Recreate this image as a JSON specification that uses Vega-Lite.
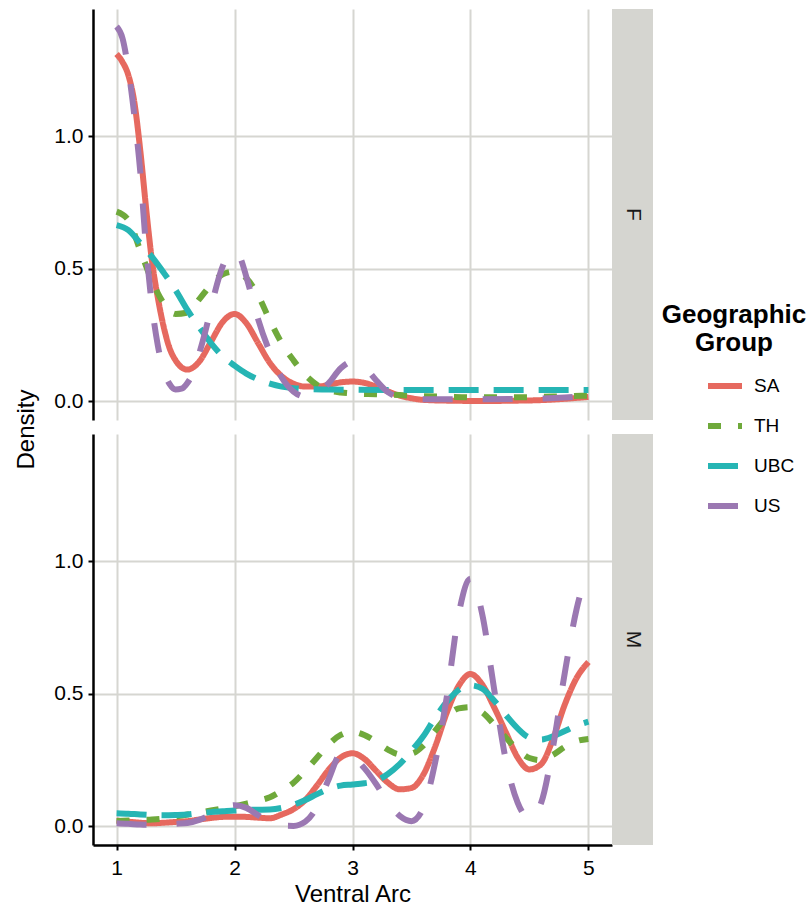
{
"$schema":"https://vega.github.io/schema/vega-lite/v6.json",
"background":"white",
"padding":{"left":14,"top":9,"right":0,"bottom":0},
"bounds":"flush",
"config":{
 "view":{"stroke":null},
 "font":"Liberation Sans",
 "axis":{"labelFont":"Liberation Sans","labelFontSize":21,"labelColor":"black","titleFont":"Liberation Sans","titleFontSize":24,"titleFontWeight":"normal","titleColor":"black","gridColor":"#d6d6d1","gridWidth":2,"domainColor":"black","domainWidth":2.5,"tickColor":"black","tickWidth":2,"tickSize":5,"labelPadding":5},
 "legend":{"orient":"none","legendX":569,"legendY":293,"titleFont":"Liberation Sans","titleFontSize":26,"titleFontWeight":"bold","titleColor":"black","titleAlign":"center","titleAnchor":"middle","titleLineHeight":28,"labelFont":"Liberation Sans","labelFontSize":19,"labelColor":"black","symbolType":"stroke","symbolSize":1156,"symbolStrokeWidth":6,"symbolOffset":31,"labelOffset":9,"rowPadding":8,"titlePadding":10}
},
"datasets":{"dens":[
{"sex":"F","group":"SA","arc":1,"density":1.31},{"sex":"F","group":"SA","arc":1.05,"density":1.28},{"sex":"F","group":"SA","arc":1.1,"density":1.23},{"sex":"F","group":"SA","arc":1.15,"density":1.13},{"sex":"F","group":"SA","arc":1.2,"density":0.95},{"sex":"F","group":"SA","arc":1.25,"density":0.73},{"sex":"F","group":"SA","arc":1.3,"density":0.53},{"sex":"F","group":"SA","arc":1.35,"density":0.39},{"sex":"F","group":"SA","arc":1.4,"density":0.28},{"sex":"F","group":"SA","arc":1.45,"density":0.2},{"sex":"F","group":"SA","arc":1.5,"density":0.155},{"sex":"F","group":"SA","arc":1.6,"density":0.12},{"sex":"F","group":"SA","arc":1.7,"density":0.15},{"sex":"F","group":"SA","arc":1.8,"density":0.225},{"sex":"F","group":"SA","arc":1.9,"density":0.3},{"sex":"F","group":"SA","arc":2,"density":0.33},{"sex":"F","group":"SA","arc":2.1,"density":0.295},{"sex":"F","group":"SA","arc":2.2,"density":0.22},{"sex":"F","group":"SA","arc":2.3,"density":0.145},{"sex":"F","group":"SA","arc":2.4,"density":0.095},{"sex":"F","group":"SA","arc":2.5,"density":0.067},{"sex":"F","group":"SA","arc":2.6,"density":0.056},{"sex":"F","group":"SA","arc":2.7,"density":0.056},{"sex":"F","group":"SA","arc":2.8,"density":0.063},{"sex":"F","group":"SA","arc":2.9,"density":0.072},{"sex":"F","group":"SA","arc":3,"density":0.075},{"sex":"F","group":"SA","arc":3.1,"density":0.07},{"sex":"F","group":"SA","arc":3.2,"density":0.056},{"sex":"F","group":"SA","arc":3.3,"density":0.038},{"sex":"F","group":"SA","arc":3.4,"density":0.022},{"sex":"F","group":"SA","arc":3.5,"density":0.012},{"sex":"F","group":"SA","arc":3.6,"density":0.006},{"sex":"F","group":"SA","arc":3.8,"density":0.003},{"sex":"F","group":"SA","arc":4,"density":0.002},{"sex":"F","group":"SA","arc":4.2,"density":0.002},{"sex":"F","group":"SA","arc":4.4,"density":0.003},{"sex":"F","group":"SA","arc":4.6,"density":0.005},{"sex":"F","group":"SA","arc":4.8,"density":0.01},{"sex":"F","group":"SA","arc":5,"density":0.017},
{"sex":"F","group":"TH","arc":1,"density":0.716},{"sex":"F","group":"TH","arc":1.1,"density":0.684},{"sex":"F","group":"TH","arc":1.2,"density":0.57},{"sex":"F","group":"TH","arc":1.3,"density":0.455},{"sex":"F","group":"TH","arc":1.4,"density":0.37},{"sex":"F","group":"TH","arc":1.5,"density":0.33},{"sex":"F","group":"TH","arc":1.6,"density":0.335},{"sex":"F","group":"TH","arc":1.7,"density":0.385},{"sex":"F","group":"TH","arc":1.8,"density":0.44},{"sex":"F","group":"TH","arc":1.9,"density":0.48},{"sex":"F","group":"TH","arc":2,"density":0.49},{"sex":"F","group":"TH","arc":2.1,"density":0.465},{"sex":"F","group":"TH","arc":2.2,"density":0.4},{"sex":"F","group":"TH","arc":2.3,"density":0.305},{"sex":"F","group":"TH","arc":2.4,"density":0.22},{"sex":"F","group":"TH","arc":2.5,"density":0.155},{"sex":"F","group":"TH","arc":2.6,"density":0.1},{"sex":"F","group":"TH","arc":2.7,"density":0.062},{"sex":"F","group":"TH","arc":2.8,"density":0.042},{"sex":"F","group":"TH","arc":2.9,"density":0.034},{"sex":"F","group":"TH","arc":3,"density":0.03},{"sex":"F","group":"TH","arc":3.2,"density":0.027},{"sex":"F","group":"TH","arc":3.4,"density":0.024},{"sex":"F","group":"TH","arc":3.6,"density":0.02},{"sex":"F","group":"TH","arc":3.8,"density":0.018},{"sex":"F","group":"TH","arc":4,"density":0.016},{"sex":"F","group":"TH","arc":4.2,"density":0.016},{"sex":"F","group":"TH","arc":4.4,"density":0.016},{"sex":"F","group":"TH","arc":4.6,"density":0.017},{"sex":"F","group":"TH","arc":4.8,"density":0.02},{"sex":"F","group":"TH","arc":5,"density":0.022},
{"sex":"F","group":"UBC","arc":1,"density":0.665},{"sex":"F","group":"UBC","arc":1.1,"density":0.646},{"sex":"F","group":"UBC","arc":1.2,"density":0.597},{"sex":"F","group":"UBC","arc":1.3,"density":0.545},{"sex":"F","group":"UBC","arc":1.4,"density":0.485},{"sex":"F","group":"UBC","arc":1.5,"density":0.42},{"sex":"F","group":"UBC","arc":1.6,"density":0.345},{"sex":"F","group":"UBC","arc":1.7,"density":0.28},{"sex":"F","group":"UBC","arc":1.8,"density":0.22},{"sex":"F","group":"UBC","arc":1.9,"density":0.17},{"sex":"F","group":"UBC","arc":2,"density":0.135},{"sex":"F","group":"UBC","arc":2.1,"density":0.105},{"sex":"F","group":"UBC","arc":2.2,"density":0.083},{"sex":"F","group":"UBC","arc":2.3,"density":0.067},{"sex":"F","group":"UBC","arc":2.4,"density":0.056},{"sex":"F","group":"UBC","arc":2.5,"density":0.05},{"sex":"F","group":"UBC","arc":2.6,"density":0.047},{"sex":"F","group":"UBC","arc":2.8,"density":0.045},{"sex":"F","group":"UBC","arc":3,"density":0.044},{"sex":"F","group":"UBC","arc":3.5,"density":0.043},{"sex":"F","group":"UBC","arc":4,"density":0.043},{"sex":"F","group":"UBC","arc":4.5,"density":0.043},{"sex":"F","group":"UBC","arc":5,"density":0.043},
{"sex":"F","group":"US","arc":1,"density":1.414},{"sex":"F","group":"US","arc":1.05,"density":1.37},{"sex":"F","group":"US","arc":1.1,"density":1.25},{"sex":"F","group":"US","arc":1.15,"density":1.08},{"sex":"F","group":"US","arc":1.2,"density":0.87},{"sex":"F","group":"US","arc":1.25,"density":0.58},{"sex":"F","group":"US","arc":1.3,"density":0.36},{"sex":"F","group":"US","arc":1.35,"density":0.21},{"sex":"F","group":"US","arc":1.4,"density":0.115},{"sex":"F","group":"US","arc":1.45,"density":0.065},{"sex":"F","group":"US","arc":1.5,"density":0.045},{"sex":"F","group":"US","arc":1.55,"density":0.048},{"sex":"F","group":"US","arc":1.6,"density":0.07},{"sex":"F","group":"US","arc":1.65,"density":0.11},{"sex":"F","group":"US","arc":1.7,"density":0.18},{"sex":"F","group":"US","arc":1.75,"density":0.26},{"sex":"F","group":"US","arc":1.8,"density":0.35},{"sex":"F","group":"US","arc":1.85,"density":0.44},{"sex":"F","group":"US","arc":1.9,"density":0.51},{"sex":"F","group":"US","arc":1.95,"density":0.553},{"sex":"F","group":"US","arc":2,"density":0.566},{"sex":"F","group":"US","arc":2.05,"density":0.54},{"sex":"F","group":"US","arc":2.1,"density":0.47},{"sex":"F","group":"US","arc":2.15,"density":0.39},{"sex":"F","group":"US","arc":2.2,"density":0.31},{"sex":"F","group":"US","arc":2.3,"density":0.185},{"sex":"F","group":"US","arc":2.4,"density":0.09},{"sex":"F","group":"US","arc":2.5,"density":0.037},{"sex":"F","group":"US","arc":2.6,"density":0.018},{"sex":"F","group":"US","arc":2.7,"density":0.03},{"sex":"F","group":"US","arc":2.8,"density":0.07},{"sex":"F","group":"US","arc":2.9,"density":0.125},{"sex":"F","group":"US","arc":3,"density":0.15},{"sex":"F","group":"US","arc":3.1,"density":0.13},{"sex":"F","group":"US","arc":3.2,"density":0.08},{"sex":"F","group":"US","arc":3.3,"density":0.035},{"sex":"F","group":"US","arc":3.4,"density":0.015},{"sex":"F","group":"US","arc":3.5,"density":0.01},{"sex":"F","group":"US","arc":3.7,"density":0.008},{"sex":"F","group":"US","arc":4,"density":0.008},{"sex":"F","group":"US","arc":4.5,"density":0.01},{"sex":"F","group":"US","arc":4.8,"density":0.015},{"sex":"F","group":"US","arc":5,"density":0.022},
{"sex":"M","group":"SA","arc":1,"density":0.022},{"sex":"M","group":"SA","arc":1.1,"density":0.018},{"sex":"M","group":"SA","arc":1.2,"density":0.014},{"sex":"M","group":"SA","arc":1.3,"density":0.012},{"sex":"M","group":"SA","arc":1.4,"density":0.014},{"sex":"M","group":"SA","arc":1.5,"density":0.017},{"sex":"M","group":"SA","arc":1.6,"density":0.02},{"sex":"M","group":"SA","arc":1.7,"density":0.026},{"sex":"M","group":"SA","arc":1.8,"density":0.032},{"sex":"M","group":"SA","arc":1.9,"density":0.036},{"sex":"M","group":"SA","arc":2,"density":0.037},{"sex":"M","group":"SA","arc":2.1,"density":0.036},{"sex":"M","group":"SA","arc":2.2,"density":0.033},{"sex":"M","group":"SA","arc":2.3,"density":0.031},{"sex":"M","group":"SA","arc":2.4,"density":0.045},{"sex":"M","group":"SA","arc":2.5,"density":0.065},{"sex":"M","group":"SA","arc":2.6,"density":0.1},{"sex":"M","group":"SA","arc":2.7,"density":0.155},{"sex":"M","group":"SA","arc":2.8,"density":0.215},{"sex":"M","group":"SA","arc":2.9,"density":0.26},{"sex":"M","group":"SA","arc":3,"density":0.276},{"sex":"M","group":"SA","arc":3.1,"density":0.255},{"sex":"M","group":"SA","arc":3.2,"density":0.21},{"sex":"M","group":"SA","arc":3.3,"density":0.165},{"sex":"M","group":"SA","arc":3.4,"density":0.14},{"sex":"M","group":"SA","arc":3.5,"density":0.145},{"sex":"M","group":"SA","arc":3.6,"density":0.195},{"sex":"M","group":"SA","arc":3.7,"density":0.3},{"sex":"M","group":"SA","arc":3.8,"density":0.43},{"sex":"M","group":"SA","arc":3.9,"density":0.53},{"sex":"M","group":"SA","arc":4,"density":0.575},{"sex":"M","group":"SA","arc":4.1,"density":0.535},{"sex":"M","group":"SA","arc":4.2,"density":0.45},{"sex":"M","group":"SA","arc":4.3,"density":0.355},{"sex":"M","group":"SA","arc":4.4,"density":0.26},{"sex":"M","group":"SA","arc":4.5,"density":0.215},{"sex":"M","group":"SA","arc":4.6,"density":0.235},{"sex":"M","group":"SA","arc":4.7,"density":0.33},{"sex":"M","group":"SA","arc":4.8,"density":0.46},{"sex":"M","group":"SA","arc":4.9,"density":0.56},{"sex":"M","group":"SA","arc":5,"density":0.62},
{"sex":"M","group":"TH","arc":1,"density":0.02},{"sex":"M","group":"TH","arc":1.1,"density":0.022},{"sex":"M","group":"TH","arc":1.2,"density":0.024},{"sex":"M","group":"TH","arc":1.3,"density":0.026},{"sex":"M","group":"TH","arc":1.4,"density":0.03},{"sex":"M","group":"TH","arc":1.5,"density":0.037},{"sex":"M","group":"TH","arc":1.6,"density":0.045},{"sex":"M","group":"TH","arc":1.7,"density":0.052},{"sex":"M","group":"TH","arc":1.8,"density":0.06},{"sex":"M","group":"TH","arc":1.9,"density":0.068},{"sex":"M","group":"TH","arc":2,"density":0.076},{"sex":"M","group":"TH","arc":2.1,"density":0.086},{"sex":"M","group":"TH","arc":2.2,"density":0.097},{"sex":"M","group":"TH","arc":2.3,"density":0.11},{"sex":"M","group":"TH","arc":2.4,"density":0.135},{"sex":"M","group":"TH","arc":2.5,"density":0.165},{"sex":"M","group":"TH","arc":2.6,"density":0.21},{"sex":"M","group":"TH","arc":2.7,"density":0.26},{"sex":"M","group":"TH","arc":2.8,"density":0.31},{"sex":"M","group":"TH","arc":2.9,"density":0.345},{"sex":"M","group":"TH","arc":3,"density":0.357},{"sex":"M","group":"TH","arc":3.1,"density":0.345},{"sex":"M","group":"TH","arc":3.2,"density":0.32},{"sex":"M","group":"TH","arc":3.3,"density":0.29},{"sex":"M","group":"TH","arc":3.4,"density":0.272},{"sex":"M","group":"TH","arc":3.5,"density":0.275},{"sex":"M","group":"TH","arc":3.6,"density":0.305},{"sex":"M","group":"TH","arc":3.7,"density":0.36},{"sex":"M","group":"TH","arc":3.8,"density":0.415},{"sex":"M","group":"TH","arc":3.9,"density":0.445},{"sex":"M","group":"TH","arc":4,"density":0.45},{"sex":"M","group":"TH","arc":4.1,"density":0.43},{"sex":"M","group":"TH","arc":4.2,"density":0.385},{"sex":"M","group":"TH","arc":4.3,"density":0.335},{"sex":"M","group":"TH","arc":4.4,"density":0.29},{"sex":"M","group":"TH","arc":4.5,"density":0.258},{"sex":"M","group":"TH","arc":4.6,"density":0.25},{"sex":"M","group":"TH","arc":4.7,"density":0.27},{"sex":"M","group":"TH","arc":4.8,"density":0.3},{"sex":"M","group":"TH","arc":4.9,"density":0.322},{"sex":"M","group":"TH","arc":5,"density":0.33},
{"sex":"M","group":"UBC","arc":1,"density":0.05},{"sex":"M","group":"UBC","arc":1.1,"density":0.048},{"sex":"M","group":"UBC","arc":1.2,"density":0.045},{"sex":"M","group":"UBC","arc":1.3,"density":0.043},{"sex":"M","group":"UBC","arc":1.4,"density":0.042},{"sex":"M","group":"UBC","arc":1.5,"density":0.043},{"sex":"M","group":"UBC","arc":1.6,"density":0.045},{"sex":"M","group":"UBC","arc":1.7,"density":0.05},{"sex":"M","group":"UBC","arc":1.8,"density":0.054},{"sex":"M","group":"UBC","arc":1.9,"density":0.057},{"sex":"M","group":"UBC","arc":2,"density":0.06},{"sex":"M","group":"UBC","arc":2.1,"density":0.062},{"sex":"M","group":"UBC","arc":2.2,"density":0.063},{"sex":"M","group":"UBC","arc":2.3,"density":0.064},{"sex":"M","group":"UBC","arc":2.4,"density":0.07},{"sex":"M","group":"UBC","arc":2.5,"density":0.082},{"sex":"M","group":"UBC","arc":2.6,"density":0.1},{"sex":"M","group":"UBC","arc":2.7,"density":0.122},{"sex":"M","group":"UBC","arc":2.8,"density":0.142},{"sex":"M","group":"UBC","arc":2.9,"density":0.154},{"sex":"M","group":"UBC","arc":3,"density":0.158},{"sex":"M","group":"UBC","arc":3.1,"density":0.163},{"sex":"M","group":"UBC","arc":3.2,"density":0.172},{"sex":"M","group":"UBC","arc":3.3,"density":0.198},{"sex":"M","group":"UBC","arc":3.4,"density":0.235},{"sex":"M","group":"UBC","arc":3.5,"density":0.285},{"sex":"M","group":"UBC","arc":3.6,"density":0.34},{"sex":"M","group":"UBC","arc":3.7,"density":0.41},{"sex":"M","group":"UBC","arc":3.8,"density":0.47},{"sex":"M","group":"UBC","arc":3.9,"density":0.515},{"sex":"M","group":"UBC","arc":4,"density":0.532},{"sex":"M","group":"UBC","arc":4.1,"density":0.52},{"sex":"M","group":"UBC","arc":4.2,"density":0.475},{"sex":"M","group":"UBC","arc":4.3,"density":0.42},{"sex":"M","group":"UBC","arc":4.4,"density":0.37},{"sex":"M","group":"UBC","arc":4.5,"density":0.335},{"sex":"M","group":"UBC","arc":4.6,"density":0.328},{"sex":"M","group":"UBC","arc":4.7,"density":0.34},{"sex":"M","group":"UBC","arc":4.8,"density":0.36},{"sex":"M","group":"UBC","arc":4.9,"density":0.38},{"sex":"M","group":"UBC","arc":5,"density":0.395},
{"sex":"M","group":"US","arc":1,"density":0.012},{"sex":"M","group":"US","arc":1.1,"density":0.01},{"sex":"M","group":"US","arc":1.2,"density":0.007},{"sex":"M","group":"US","arc":1.3,"density":0.006},{"sex":"M","group":"US","arc":1.4,"density":0.007},{"sex":"M","group":"US","arc":1.5,"density":0.01},{"sex":"M","group":"US","arc":1.6,"density":0.013},{"sex":"M","group":"US","arc":1.7,"density":0.025},{"sex":"M","group":"US","arc":1.8,"density":0.045},{"sex":"M","group":"US","arc":1.9,"density":0.068},{"sex":"M","group":"US","arc":2,"density":0.08},{"sex":"M","group":"US","arc":2.1,"density":0.07},{"sex":"M","group":"US","arc":2.2,"density":0.042},{"sex":"M","group":"US","arc":2.3,"density":0.015},{"sex":"M","group":"US","arc":2.4,"density":0.003},{"sex":"M","group":"US","arc":2.5,"density":0.002},{"sex":"M","group":"US","arc":2.6,"density":0.018},{"sex":"M","group":"US","arc":2.7,"density":0.075},{"sex":"M","group":"US","arc":2.8,"density":0.18},{"sex":"M","group":"US","arc":2.9,"density":0.272},{"sex":"M","group":"US","arc":3,"density":0.262},{"sex":"M","group":"US","arc":3.1,"density":0.22},{"sex":"M","group":"US","arc":3.2,"density":0.16},{"sex":"M","group":"US","arc":3.3,"density":0.09},{"sex":"M","group":"US","arc":3.4,"density":0.04},{"sex":"M","group":"US","arc":3.5,"density":0.02},{"sex":"M","group":"US","arc":3.6,"density":0.07},{"sex":"M","group":"US","arc":3.7,"density":0.24},{"sex":"M","group":"US","arc":3.8,"density":0.49},{"sex":"M","group":"US","arc":3.9,"density":0.8},{"sex":"M","group":"US","arc":4,"density":0.934},{"sex":"M","group":"US","arc":4.1,"density":0.8},{"sex":"M","group":"US","arc":4.2,"density":0.52},{"sex":"M","group":"US","arc":4.3,"density":0.25},{"sex":"M","group":"US","arc":4.4,"density":0.09},{"sex":"M","group":"US","arc":4.5,"density":0.03},{"sex":"M","group":"US","arc":4.6,"density":0.09},{"sex":"M","group":"US","arc":4.7,"density":0.3},{"sex":"M","group":"US","arc":4.8,"density":0.58},{"sex":"M","group":"US","arc":4.9,"density":0.82},{"sex":"M","group":"US","arc":5,"density":0.97}
]},
"columns":2,
"spacing":{"row":14,"column":0},
"concat":[
  {"width":519,"height":411,
   "data":{"name":"dens"},
   "transform":[{"filter":"datum.sex === 'F'"}],
   "mark":{"type":"line","strokeWidth":6,"interpolate":"monotone","strokeCap":"butt","clip":true},
   "encoding":{
    "x":{"field":"arc","type":"quantitative","scale":{"domain":[0.8,5.2],"nice":false,"zero":false},"axis":{"values":[1,2,3,4,5],"labels":false,"ticks":false,"domain":false,"title":null,"grid":true}},
    "y":{"field":"density","type":"quantitative","scale":{"domain":[-0.07,1.48],"nice":false,"zero":false},"axis":{"values":[0,0.5,1],"format":".1f","title":"Density","titleX":-67,"titleY":420,"titleBaseline":"middle","titleAngle":-90}},
    "color":{"field":"group","type":"nominal","title":["Geographic","Group"],"scale":{"domain":["SA","TH","UBC","US"],"range":["#e6695f","#6fa93b","#26b5b4","#9b78b2"]}},
    "strokeDash":{"field":"group","type":"nominal","title":["Geographic","Group"],"scale":{"domain":["SA","TH","UBC","US"],"range":[[1,0],[13,17],[30,15],[30,30]]}}
   }},
  {"width":41,"height":411,
   "data":{"values":[{"sex":"F"}]},
   "layer":[
    {"mark":{"type":"rect","color":"#d5d5d0"},"encoding":{"x":{"datum":0,"type":"quantitative","scale":{"domain":[0,1]},"axis":null},"x2":{"datum":1},"y":{"datum":0,"type":"quantitative","scale":{"domain":[0,1]},"axis":null},"y2":{"datum":1}}},
    {"mark":{"type":"text","angle":90,"fontSize":21,"font":"Liberation Sans","color":"#1a1a1a","align":"center","baseline":"middle"},"encoding":{"text":{"field":"sex"},"x":{"datum":0.5,"type":"quantitative","scale":{"domain":[0,1]},"axis":null},"y":{"datum":0.5,"type":"quantitative","scale":{"domain":[0,1]},"axis":null}}}
   ]},
  {"width":519,"height":411,
   "data":{"name":"dens"},
   "transform":[{"filter":"datum.sex === 'M'"}],
   "mark":{"type":"line","strokeWidth":6,"interpolate":"monotone","strokeCap":"butt","clip":true},
   "encoding":{
    "x":{"field":"arc","type":"quantitative","scale":{"domain":[0.8,5.2],"nice":false,"zero":false},"axis":{"values":[1,2,3,4,5],"format":"d","title":"Ventral Arc","labelPadding":7,"titlePadding":4,"grid":true}},
    "y":{"field":"density","type":"quantitative","scale":{"domain":[-0.07,1.48],"nice":false,"zero":false},"axis":{"values":[0,0.5,1],"format":".1f","title":null}},
    "color":{"field":"group","type":"nominal","title":["Geographic","Group"],"scale":{"domain":["SA","TH","UBC","US"],"range":["#e6695f","#6fa93b","#26b5b4","#9b78b2"]}},
    "strokeDash":{"field":"group","type":"nominal","title":["Geographic","Group"],"scale":{"domain":["SA","TH","UBC","US"],"range":[[1,0],[13,17],[30,15],[30,30]]}}
   }},
  {"width":41,"height":411,
   "data":{"values":[{"sex":"M"}]},
   "layer":[
    {"mark":{"type":"rect","color":"#d5d5d0"},"encoding":{"x":{"datum":0,"type":"quantitative","scale":{"domain":[0,1]},"axis":null},"x2":{"datum":1},"y":{"datum":0,"type":"quantitative","scale":{"domain":[0,1]},"axis":null},"y2":{"datum":1}}},
    {"mark":{"type":"text","angle":90,"fontSize":21,"font":"Liberation Sans","color":"#1a1a1a","align":"center","baseline":"middle"},"encoding":{"text":{"field":"sex"},"x":{"datum":0.5,"type":"quantitative","scale":{"domain":[0,1]},"axis":null},"y":{"datum":0.5,"type":"quantitative","scale":{"domain":[0,1]},"axis":null}}}
   ]}
],
"resolve":{"scale":{"x":"independent","y":"independent"}}
}
